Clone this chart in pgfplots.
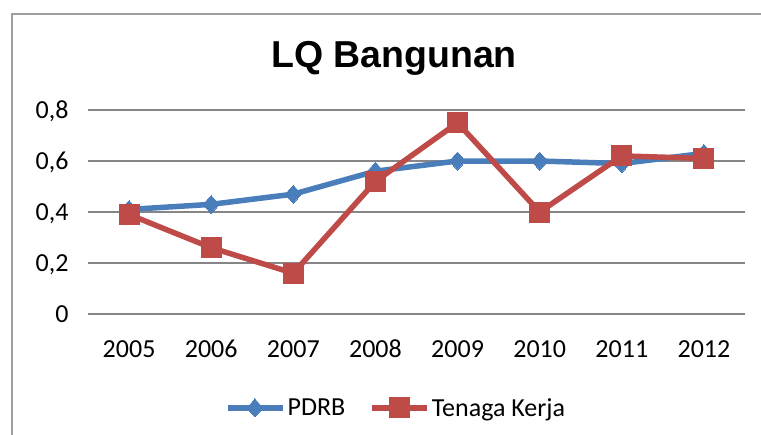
\documentclass[border=0pt]{standalone}
\usepackage{fontspec}
\setmainfont{Carlito}
\newfontfamily\titlefont{Liberation Sans}
\usepackage{pgfplots}
\pgfplotsset{compat=1.18}
\definecolor{pblue}{RGB}{74,126,187}
\definecolor{pred}{RGB}{190,75,72}
\definecolor{gridgray}{RGB}{134,134,134}
\begin{document}
\begin{tikzpicture}
\useasboundingbox (-88bp,-121bp) rectangle (673bp,314bp);
\draw[gridgray!80, line width=2bp] (-76bp,-130bp) -- (-76bp,300bp) -- (690bp,300bp);
\begin{axis}[
  at={(0,0)}, anchor=south west, scale only axis,
  width=657bp, height=204bp,
  xmin=-0.5, xmax=7.5, ymin=0, ymax=0.8,
  xtick={0,1,2,3,4,5,6,7},
  xticklabels={2005,2006,2007,2008,2009,2010,2011,2012},
  ytick={0,0.2,0.4,0.6,0.8},
  /pgf/number format/.cd, use comma, fixed, precision=1, assume math mode=true,
  /pgfplots/.cd,
  axis line style={draw=none},
  major tick length=0pt,
  ymajorgrids,
  grid style={gridgray, line width=1.4bp},
  tick label style={font=\fontsize{26bp}{30bp}\selectfont},
  xticklabel style={anchor=base, yshift=-43bp},
  yticklabel style={anchor=base east, yshift=-8bp, xshift=-16bp},
  clip=false,
  legend columns=2,
  legend style={at={(0.469,-0.46)}, anchor=center, draw=none, fill=none,
    font=\fontsize{26bp}{30bp}\selectfont,
    /tikz/every even column/.append style={column sep=22bp},
    nodes={inner xsep=2bp}},
  legend image code/.code={\draw[mark repeat=2,mark phase=2] plot coordinates {(0bp,0bp) (27bp,0bp) (55bp,0bp)};},
]
\addplot[pblue, line width=5.5bp, line join=round, mark=diamond*, mark size=9bp,
  mark options={solid, fill=pblue, draw=pblue, line width=0pt, xscale=1.2}]
  coordinates {(0,0.41) (1,0.43) (2,0.47) (3,0.56) (4,0.60) (5,0.60) (6,0.59) (7,0.63)};
\addlegendentry{PDRB}
\addplot[pred, line width=5.5bp, line join=round, mark=square*, mark size=10bp,
  mark options={solid, fill=pred, draw=pred, line width=0pt}]
  coordinates {(0,0.39) (1,0.26) (2,0.16) (3,0.52) (4,0.75) (5,0.40) (6,0.62) (7,0.61)};
\addlegendentry{Tenaga Kerja}
\end{axis}
\node[anchor=base, font=\titlefont\bfseries\fontsize{37.5bp}{42bp}\selectfont, inner sep=0pt] at (306bp,246bp) {LQ Bangunan};
\end{tikzpicture}
\end{document}
